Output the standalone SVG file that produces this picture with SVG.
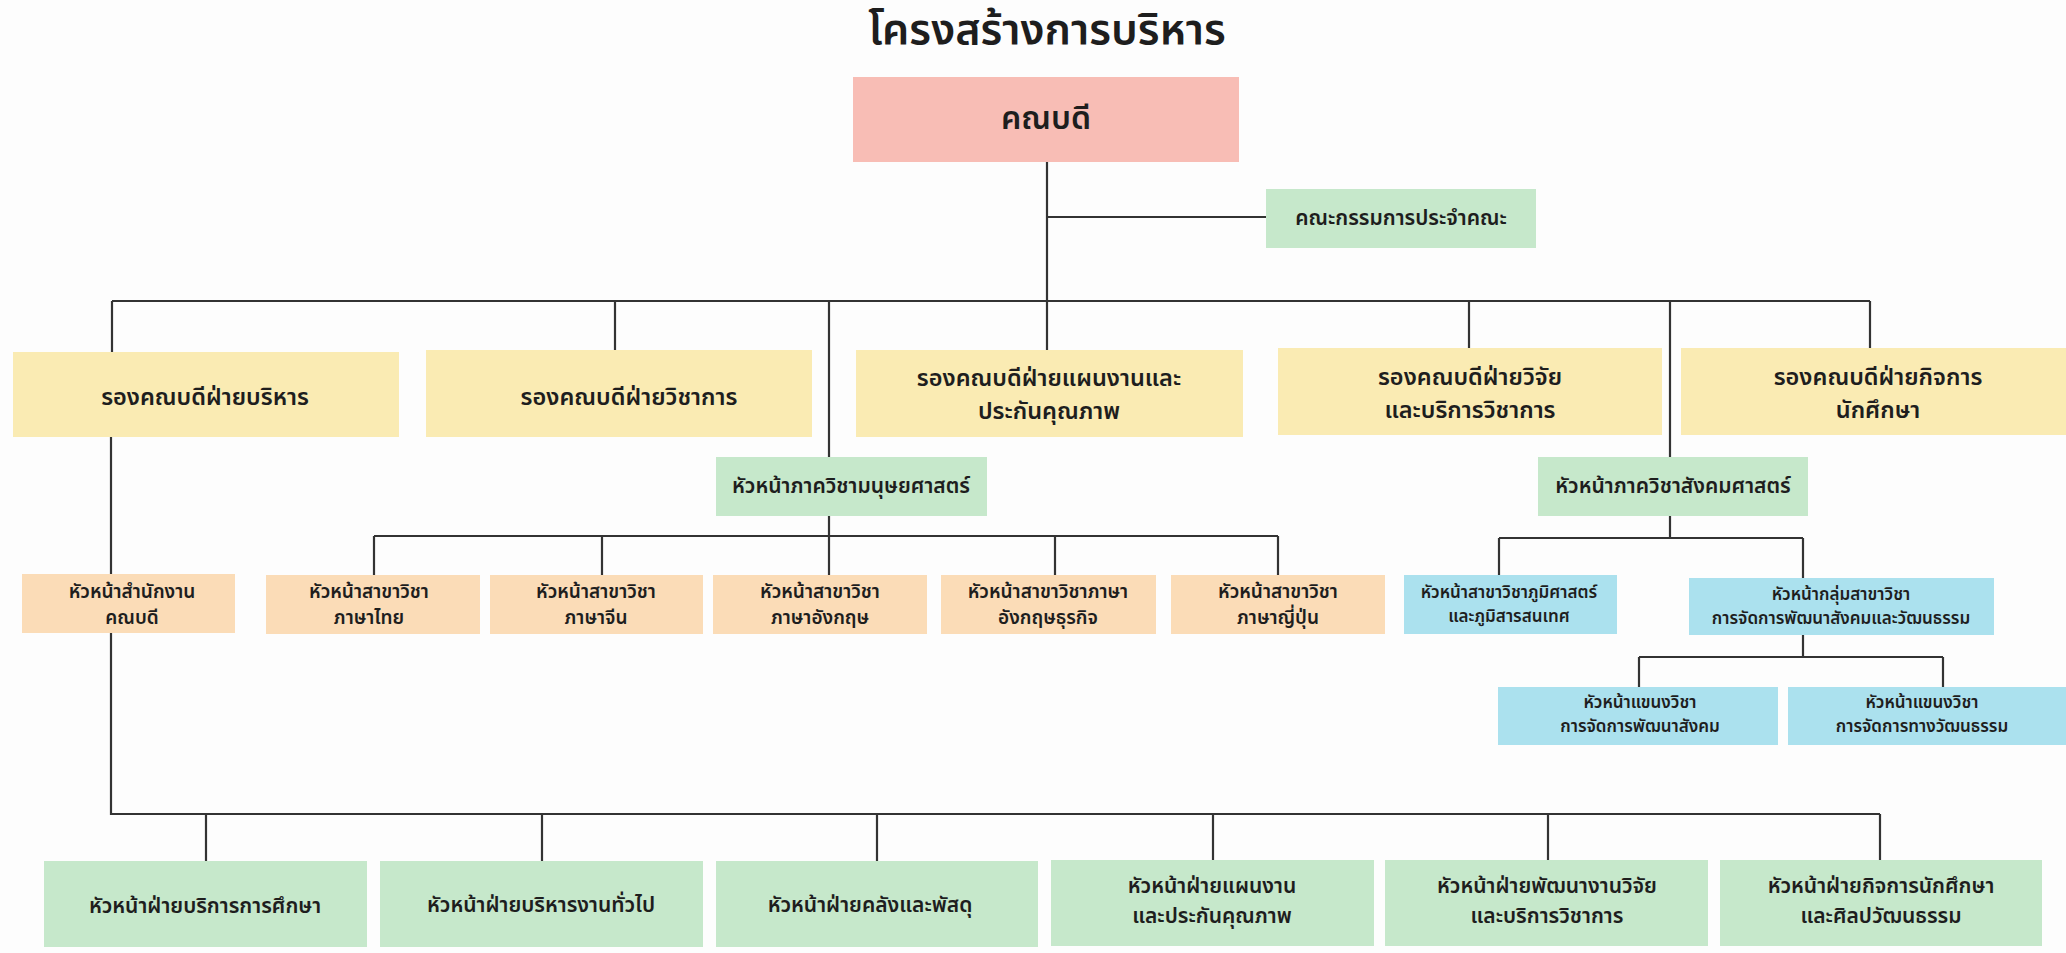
<svg xmlns="http://www.w3.org/2000/svg" width="2066" height="953" viewBox="0 0 2066 953">
<style>
text{font-family:"Noto Sans Thai","Noto Sans","DejaVu Sans",sans-serif;fill:#1e1e1e;text-anchor:middle;font-weight:600}
.pink{fill:#F8BDB5}.yel{fill:#FAEBB3}.grn{fill:#C6E8CB}.org{fill:#FBDCB7}.blu{fill:#ABE1EE}
.ln{stroke:#333;stroke-width:2.2;fill:none}
.t1{font-size:43px}.t2{font-size:32px}.y{font-size:23.5px}.g{font-size:21px}.o{font-size:19px}.b{font-size:17px}.bt{font-size:21px}
</style>
<rect width="2066" height="953" fill="#fdfdfd"/>
<text class="t1" x="1047" y="44">โครงสร้างการบริหาร</text>
<g id="connectors" class="ln">
<path d="M1047 161V350M1047 217H1266M112 301H1870M112 301V352M615 301V350M829 301V457M1469 301V348M1670 301V457M1870 301V348"/>
<path d="M111 437V574M111 633V814H1880M206 814V861M542 814V861M877 814V861M1213 814V861M1548 814V861M1880 814V861"/>
<path d="M829 516V575M374 536H1278M374 536V575M602 536V575M1055 536V575M1278 536V575"/>
<path d="M1670 516V538M1499 538H1803M1499 538V576M1803 538V578M1803 635V657M1639 657H1943M1639 657V687M1943 657V687"/>
</g>
<g id="dean"><rect class="pink" x="853" y="77" width="386" height="85"/><text class="t2" x="1046" y="129">คณบดี</text></g>
<g id="committee"><rect class="grn" x="1266" y="189" width="270" height="59"/><text class="g" x="1401" y="225">คณะกรรมการประจำคณะ</text></g>
<g id="vp1"><rect class="yel" x="13" y="352" width="386" height="85"/><text class="y" x="205" y="405">รองคณบดีฝ่ายบริหาร</text></g>
<g id="vp2"><rect class="yel" x="426" y="350" width="386" height="87"/><text class="y" x="629" y="405">รองคณบดีฝ่ายวิชาการ</text></g>
<g id="vp3"><rect class="yel" x="856" y="350" width="387" height="87"/><text class="y" x="1049" y="386">รองคณบดีฝ่ายแผนงานและ</text><text class="y" x="1049" y="419">ประกันคุณภาพ</text></g>
<g id="vp4"><rect class="yel" x="1278" y="348" width="384" height="87"/><text class="y" x="1470" y="385">รองคณบดีฝ่ายวิจัย</text><text class="y" x="1470" y="418">และบริการวิชาการ</text></g>
<g id="vp5"><rect class="yel" x="1681" y="348" width="385" height="87"/><text class="y" x="1878" y="385">รองคณบดีฝ่ายกิจการ</text><text class="y" x="1878" y="418">นักศึกษา</text></g>
<g id="hum"><rect class="grn" x="716" y="457" width="271" height="59"/><text class="g" x="851" y="493">หัวหน้าภาควิชามนุษยศาสตร์</text></g>
<g id="soc"><rect class="grn" x="1538" y="457" width="270" height="59"/><text class="g" x="1673" y="493">หัวหน้าภาควิชาสังคมศาสตร์</text></g>
<g id="office"><rect class="org" x="22" y="574" width="213" height="59"/><text class="o" x="132" y="598">หัวหน้าสำนักงาน</text><text class="o" x="132" y="624">คณบดี</text></g>
<g id="thai"><rect class="org" x="266" y="575" width="214" height="59"/><text class="o" x="369" y="598">หัวหน้าสาขาวิชา</text><text class="o" x="369" y="624">ภาษาไทย</text></g>
<g id="chinese"><rect class="org" x="490" y="575" width="213" height="59"/><text class="o" x="596" y="598">หัวหน้าสาขาวิชา</text><text class="o" x="596" y="624">ภาษาจีน</text></g>
<g id="english"><rect class="org" x="713" y="575" width="214" height="59"/><text class="o" x="820" y="598">หัวหน้าสาขาวิชา</text><text class="o" x="820" y="624">ภาษาอังกฤษ</text></g>
<g id="buseng"><rect class="org" x="941" y="575" width="215" height="59"/><text class="o" x="1048" y="598">หัวหน้าสาขาวิชาภาษา</text><text class="o" x="1048" y="624">อังกฤษธุรกิจ</text></g>
<g id="japanese"><rect class="org" x="1171" y="575" width="214" height="59"/><text class="o" x="1278" y="598">หัวหน้าสาขาวิชา</text><text class="o" x="1278" y="624">ภาษาญี่ปุ่น</text></g>
<g id="geo"><rect class="blu" x="1404" y="575" width="213" height="59"/><text class="b" x="1509" y="598">หัวหน้าสาขาวิชาภูมิศาสตร์</text><text class="b" x="1509" y="621.5">และภูมิสารสนเทศ</text></g>
<g id="socdevgroup"><rect class="blu" x="1689" y="578" width="305" height="57"/><text class="b" x="1841" y="600">หัวหน้ากลุ่มสาขาวิชา</text><text class="b" x="1841" y="623.5">การจัดการพัฒนาสังคมและวัฒนธรรม</text></g>
<g id="socdev"><rect class="blu" x="1498" y="687" width="280" height="58"/><text class="b" x="1640" y="708">หัวหน้าแขนงวิชา</text><text class="b" x="1640" y="731.5">การจัดการพัฒนาสังคม</text></g>
<g id="culture"><rect class="blu" x="1788" y="687" width="278" height="58"/><text class="b" x="1922" y="708">หัวหน้าแขนงวิชา</text><text class="b" x="1922" y="731.5">การจัดการทางวัฒนธรรม</text></g>
<g id="edu"><rect class="grn" x="44" y="861" width="323" height="86"/><text class="bt" x="205" y="913">หัวหน้าฝ่ายบริการการศึกษา</text></g>
<g id="admin"><rect class="grn" x="380" y="861" width="323" height="86"/><text class="bt" x="541" y="912">หัวหน้าฝ่ายบริหารงานทั่วไป</text></g>
<g id="finance"><rect class="grn" x="716" y="861" width="322" height="86"/><text class="bt" x="870" y="912">หัวหน้าฝ่ายคลังและพัสดุ</text></g>
<g id="plan"><rect class="grn" x="1051" y="860" width="323" height="86"/><text class="bt" x="1212" y="893">หัวหน้าฝ่ายแผนงาน</text><text class="bt" x="1212" y="923">และประกันคุณภาพ</text></g>
<g id="research"><rect class="grn" x="1385" y="860" width="323" height="86"/><text class="bt" x="1547" y="893">หัวหน้าฝ่ายพัฒนางานวิจัย</text><text class="bt" x="1547" y="923">และบริการวิชาการ</text></g>
<g id="student"><rect class="grn" x="1720" y="860" width="322" height="86"/><text class="bt" x="1881" y="893">หัวหน้าฝ่ายกิจการนักศึกษา</text><text class="bt" x="1881" y="923">และศิลปวัฒนธรรม</text></g>
</svg>
